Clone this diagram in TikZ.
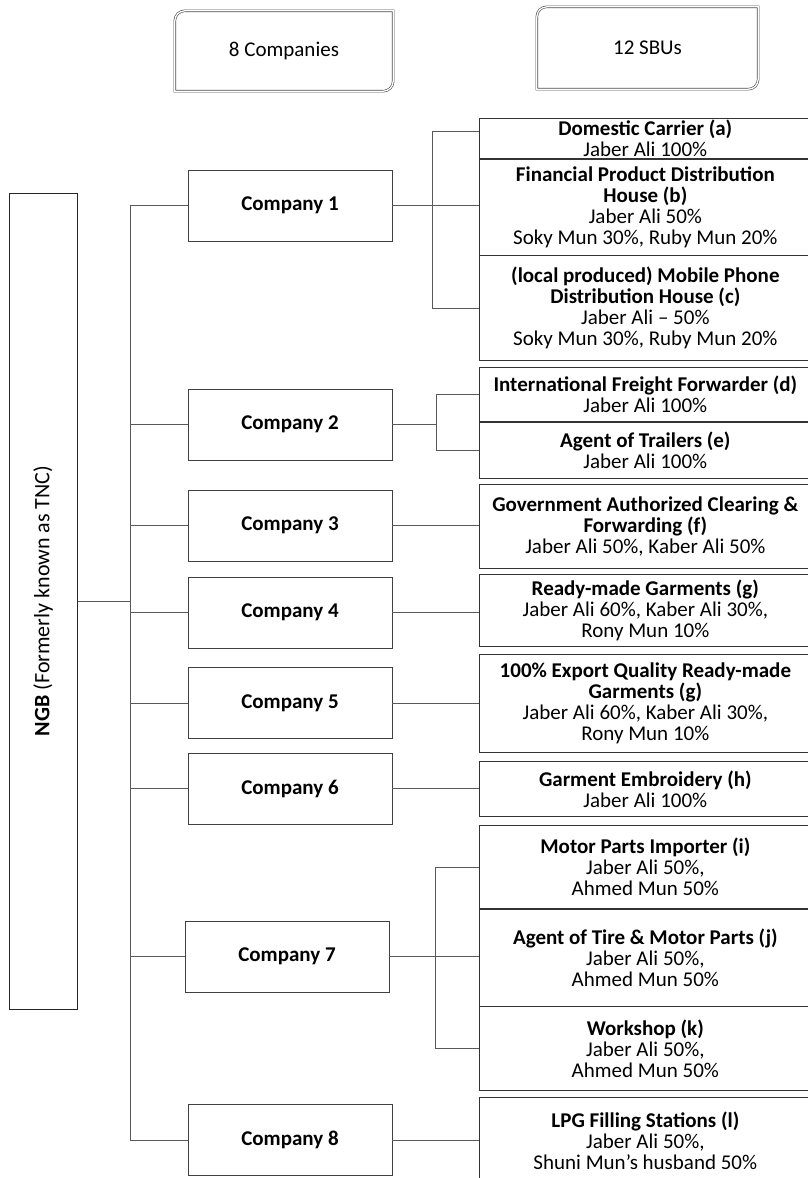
\documentclass[tikz,border=0pt]{standalone}
\usepackage{fontspec}
\setmainfont{Carlito}
\usetikzlibrary{positioning}

\tikzstyle{box} = [rectangle, inner sep=0pt, align=center, font=\fontsize{21}{21}\selectfont]
\tikzstyle{company} = [box, draw=black!75, line width=0.7pt, minimum width=204, minimum height=71, font=\fontsize{21}{21}\selectfont\bfseries]
\tikzstyle{sbu} = [box, draw=black!80, line width=0.7pt, minimum width=332, anchor=north west]
\tikzstyle{header} = [box, minimum width=218, minimum height=80]
\tikzstyle{hdrline} = [draw=black!70, double=white, double distance=1.3pt, line width=0.6pt]
\tikzstyle{link} = [draw=black!65, line width=0.7pt]

\begin{document}
\begin{tikzpicture}[x=1pt, y=-1pt]

      \useasboundingbox (0,0) rectangle (808,1178);
      \clip (0,0) rectangle (808,1178);

      %%%%%%%%%%%%%%%%%%%%%%%%%%%%%%%%%%%%%%%%%%
      % HEADERS
      %%%%%%%%%%%%%%%%%%%%%%%%%%%%%%%%%%%%%%%%%%
      \node[header] (hc) at (284,51) {8 Companies};
      \node[header, minimum width=221, minimum height=82] (hs) at (647.5,48) {12 SBUs};
      \foreach \h in {hc,hs}
        \draw[hdrline] (\h.north) -- (\h.north east) -- (\h.east) [rounded corners=10pt]
          -- (\h.south east) -- (\h.south) [sharp corners] -- (\h.south west) -- (\h.west)
          [rounded corners=10pt] -- (\h.north west) -- cycle;

      %%%%%%%%%%%%%%%%%%%%%%%%%%%%%%%%%%%%%%%%%%
      % GROUP AND COMPANIES
      %%%%%%%%%%%%%%%%%%%%%%%%%%%%%%%%%%%%%%%%%%
      \node[box, draw=black!85, line width=1pt, rotate=90, minimum width=816, minimum height=68, font=\fontsize{22}{22}\selectfont] (ngb) at (43,601) {\textbf{NGB} (Formerly known as TNC)};

      \foreach \n/\x/\y in {1/290/205.5, 2/290/424.5, 3/290/525.5, 4/290/612.5, 5/290/703, 6/290/788.5, 7/287/956.5, 8/290/1140}
        \node[company] (c\n) at (\x,\y) {Company \n};

      %%%%%%%%%%%%%%%%%%%%%%%%%%%%%%%%%%%%%%%%%%
      % SBUs
      %%%%%%%%%%%%%%%%%%%%%%%%%%%%%%%%%%%%%%%%%%
      \node[sbu, minimum height=40] (sa) at (479,118) {\textbf{Domestic Carrier (a)}\\Jaber Ali 100\%};
      \node[sbu, minimum height=96, below=0pt of sa] (sb) {\textbf{Financial Product Distribution}\\\textbf{House (b)}\\Jaber Ali 50\%\\Soky Mun 30\%, Ruby Mun 20\%};
      \node[sbu, minimum height=105, below=0pt of sb] (sc) {\textbf{(local produced) Mobile Phone}\\\textbf{Distribution House (c)}\\Jaber Ali – 50\%\\Soky Mun 30\%, Ruby Mun 20\%};

      \node[sbu, minimum height=54] (sd) at (479,367) {\textbf{International Freight Forwarder (d)}\\Jaber Ali 100\%};
      \node[sbu, minimum height=56, below=0pt of sd] (se) {\textbf{Agent of Trailers (e)}\\Jaber Ali 100\%};

      \node[sbu, minimum height=84] (sf) at (479,484) {\textbf{Government Authorized Clearing \&}\\\textbf{Forwarding (f)}\\Jaber Ali 50\%, Kaber Ali 50\%};
      \node[sbu, minimum height=72] (sg) at (479,574) {\textbf{Ready-made Garments (g)}\\Jaber Ali 60\%, Kaber Ali 30\%,\\Rony Mun 10\%};
      \node[sbu, minimum height=98] (sgx) at (479,654) {\textbf{100\% Export Quality Ready-made}\\\textbf{Garments (g)}\\Jaber Ali 60\%, Kaber Ali 30\%,\\Rony Mun 10\%};
      \node[sbu, minimum height=55] (sh) at (479,761) {\textbf{Garment Embroidery (h)}\\Jaber Ali 100\%};

      \node[sbu, minimum height=83] (si) at (479,825) {\textbf{Motor Parts Importer (i)}\\Jaber Ali 50\%,\\Ahmed Mun 50\%};
      \node[sbu, minimum height=97, below=0pt of si] (sj) {\textbf{Agent of Tire \& Motor Parts (j)}\\Jaber Ali 50\%,\\Ahmed Mun 50\%};
      \node[sbu, minimum height=84, below=0pt of sj] (sk) {\textbf{Workshop (k)}\\Jaber Ali 50\%,\\Ahmed Mun 50\%};

      \node[sbu, minimum height=86] (sl) at (479,1097) {\textbf{LPG Filling Stations (l)}\\Jaber Ali 50\%,\\Shuni Mun’s husband 50\%};

      %%%%%%%%%%%%%%%%%%%%%%%%%%%%%%%%%%%%%%%%%%
      % CONNECTORS
      %%%%%%%%%%%%%%%%%%%%%%%%%%%%%%%%%%%%%%%%%%
      \coordinate (trunk) at (130,0);
      \coordinate (k1) at (432,0);
      \coordinate (k2) at (436,0);
      \coordinate (k7) at (435,0);

      \draw[link] (ngb.south) -- (ngb.south -| trunk);
      \draw[link] (c1.west -| trunk) -- (c8.west -| trunk);
      \foreach \n in {1,...,8}
        \draw[link] (c\n.west -| trunk) -- (c\n.west);

      \draw[link] (c1.east) -- (c1.east -| sb.west);
      \draw[link] ([yshift=7pt]sa.west) -| (sc.west -| k1) -- (sc.west);

      \draw[link] (c2.east) -- (c2.east -| k2);
      \draw[link] (sd.west) -| (se.west -| k2) -- (se.west);

      \draw[link] (c3.east) -- (c3.east -| sf.west);
      \draw[link] (c4.east) -- (c4.east -| sg.west);
      \draw[link] (c5.east) -- (c5.east -| sgx.west);
      \draw[link] (c6.east) -- (c6.east -| sh.west);

      \draw[link] (c7.east) -- (c7.east -| sj.west);
      \draw[link] (si.west) -| (sk.west -| k7) -- (sk.west);

      \draw[link] (c8.east) -- (c8.east -| sl.west);

\end{tikzpicture}
\end{document}
